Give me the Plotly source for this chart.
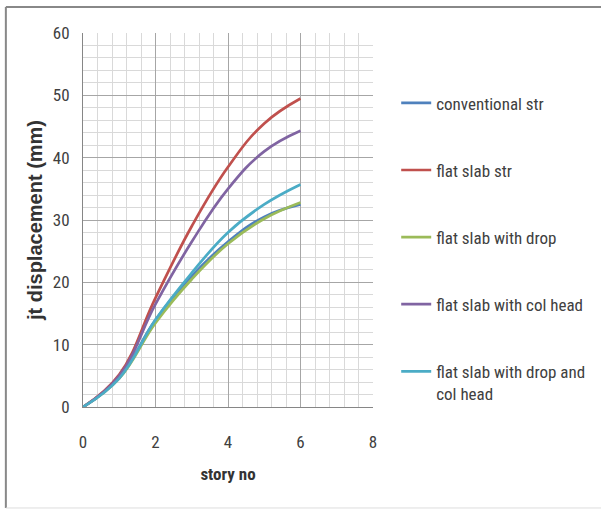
import plotly.graph_objects as go

stories = [0, 1, 2, 3, 4, 5, 6]
conventional = [0, 4.7, 14.0, 21.0, 26.5, 30.5, 32.5]
flat_slab = [0, 5.2, 17.5, 29.0, 38.5, 45.5, 49.5]
flat_drop = [0, 4.6, 13.5, 20.5, 26.2, 30.2, 32.8]
flat_colhead = [0, 5.0, 16.5, 26.5, 35.0, 41.0, 44.3]
flat_drop_colhead = [0, 4.6, 14.0, 21.5, 28.0, 32.5, 35.7]

names = ["conventional str", "flat slab str", "flat slab with drop",
         "flat slab with col head", "flat slab with drop and<br>col head"]
series = [conventional, flat_slab, flat_drop, flat_colhead, flat_drop_colhead]
colors = ["#4F81BD", "#C0504D", "#9BBB59", "#8064A2", "#4BACC6"]

FONT = "Roboto Condensed, Liberation Sans Narrow, sans-serif"
WIDE = "Liberation Sans, Arial, sans-serif"

fig = go.Figure()
for i, (n, s, c) in enumerate(zip(names, series, colors)):
    fig.add_trace(go.Scatter(x=stories, y=s, name=n, mode="lines",
                             line=dict(color=c, width=2.7, shape="spline", smoothing=1.2),
                             legendgroup=str(i), legendrank=i))

fig.update_layout(
    width=601, height=512,
    margin=dict(l=83, r=228, t=33, b=105, autoexpand=False),
    paper_bgcolor="white", plot_bgcolor="white",
    font=dict(family=FONT, color="#404040"),
    showlegend=True,
    legend=dict(x=1.08, xanchor="left", y=0.86, yanchor="top",
                font=dict(size=17, family=FONT, color="#404040"),
                tracegroupgap=42, itemwidth=30, valign="top",
                traceorder="grouped"),
    shapes=[
        dict(type="line", xref="paper", yref="paper", x0=-0.266, x1=1.8,
             y0=1.0695, y1=1.0695, line=dict(color="#888888", width=2)),
        dict(type="line", xref="paper", yref="paper", x0=-0.266, x1=-0.266,
             y0=1.0695, y1=-0.27, line=dict(color="#888888", width=2)),
        dict(type="line", xref="paper", yref="paper", x0=-0.266, x1=1.8,
             y0=-0.27, y1=-0.27, line=dict(color="#dddddd", width=1)),
    ],
)

fig.update_xaxes(range=[0, 8], dtick=2, tick0=0,
                 showgrid=True, gridcolor="#a6a6a6", gridwidth=1,
                 minor=dict(dtick=0.4, showgrid=True, gridcolor="#d9d9d9", gridwidth=1),
                 showline=True, linecolor="#868686", linewidth=1,
                 zeroline=False, ticks="", ticklabelstandoff=20,
                 tickfont=dict(size=17, family=FONT, color="#404040"),
                 title=dict(text="<b>story no</b>", font=dict(size=17, family=FONT, color="#333333"),
                            standoff=16))
fig.update_yaxes(range=[0, 60], dtick=10, tick0=0,
                 showgrid=True, gridcolor="#a6a6a6", gridwidth=1,
                 minor=dict(dtick=2, showgrid=True, gridcolor="#d9d9d9", gridwidth=1),
                 showline=True, linecolor="#868686", linewidth=1,
                 zeroline=False, ticks="", ticklabelstandoff=9,
                 tickfont=dict(size=17, family=FONT, color="#404040"),
                 title=dict(text="<b>jt displacement (mm)</b>", font=dict(size=20, family=WIDE, color="#333333"),
                            standoff=4))

fig.write_html("out.html")
